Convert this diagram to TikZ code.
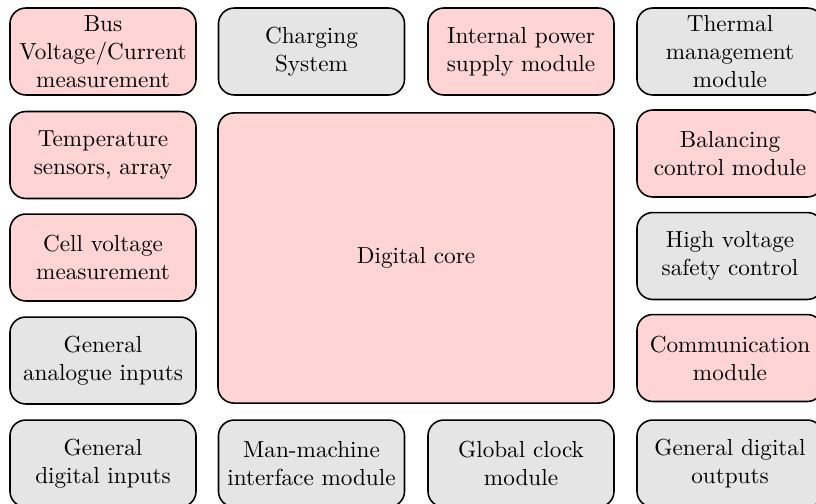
\documentclass[tikz,border=0pt]{standalone}
\begin{document}
\begin{tikzpicture}[x=0.444pt,y=-0.444pt,
  font=\fontsize{10.3}{12.4}\selectfont,
  blk/.style={draw, line width=0.7pt, rounded corners=7pt, minimum width=82.6pt, minimum height=38.6pt, align=center, inner sep=0pt},
  pinkb/.style={blk, fill=red!17},
  greyb/.style={blk, fill=black!10}]
\useasboundingbox (0,0) rectangle (816,503);
\clip (0,0) rectangle (816,503);
% column 1
\node[pinkb] (bus) at (103,51.5) {Bus\\Voltage/Current\\measurement};
\node[pinkb] (temp) at (103,155) {Temperature\\sensors, array};
\node[pinkb] (cell) at (103,257.5) {Cell voltage\\measurement};
\node[greyb] (ana) at (103,360.5) {General\\analogue inputs};
\node[greyb] (din) at (103,463.5) {General\\digital inputs};
% column 2 / 3 top and bottom
\node[greyb] (chg) at (311.5,51.5) {Charging\\System};
\node[pinkb] (pwr) at (521,51.5) {Internal power\\supply module};
\node[greyb] (mmi) at (311.5,463.5) {Man-machine\\interface module};
\node[greyb] (clk) at (521,463.5) {Global clock\\module};
% digital core
\node[blk, fill=red!17, minimum width=175.8pt, minimum height=128.8pt] (core) at (416,258) {Digital core};
% column 4
\node[greyb] (therm) at (730,51.5) {Thermal\\management\\module};
\node[pinkb] (bal) at (730,153.5) {Balancing\\control module};
\node[greyb] (hv) at (730,256) {High voltage\\safety control};
\node[pinkb] (com) at (730,358) {Communication\\module};
\node[greyb] (dout) at (730,463.5) {General digital\\outputs};
\end{tikzpicture}
\end{document}
